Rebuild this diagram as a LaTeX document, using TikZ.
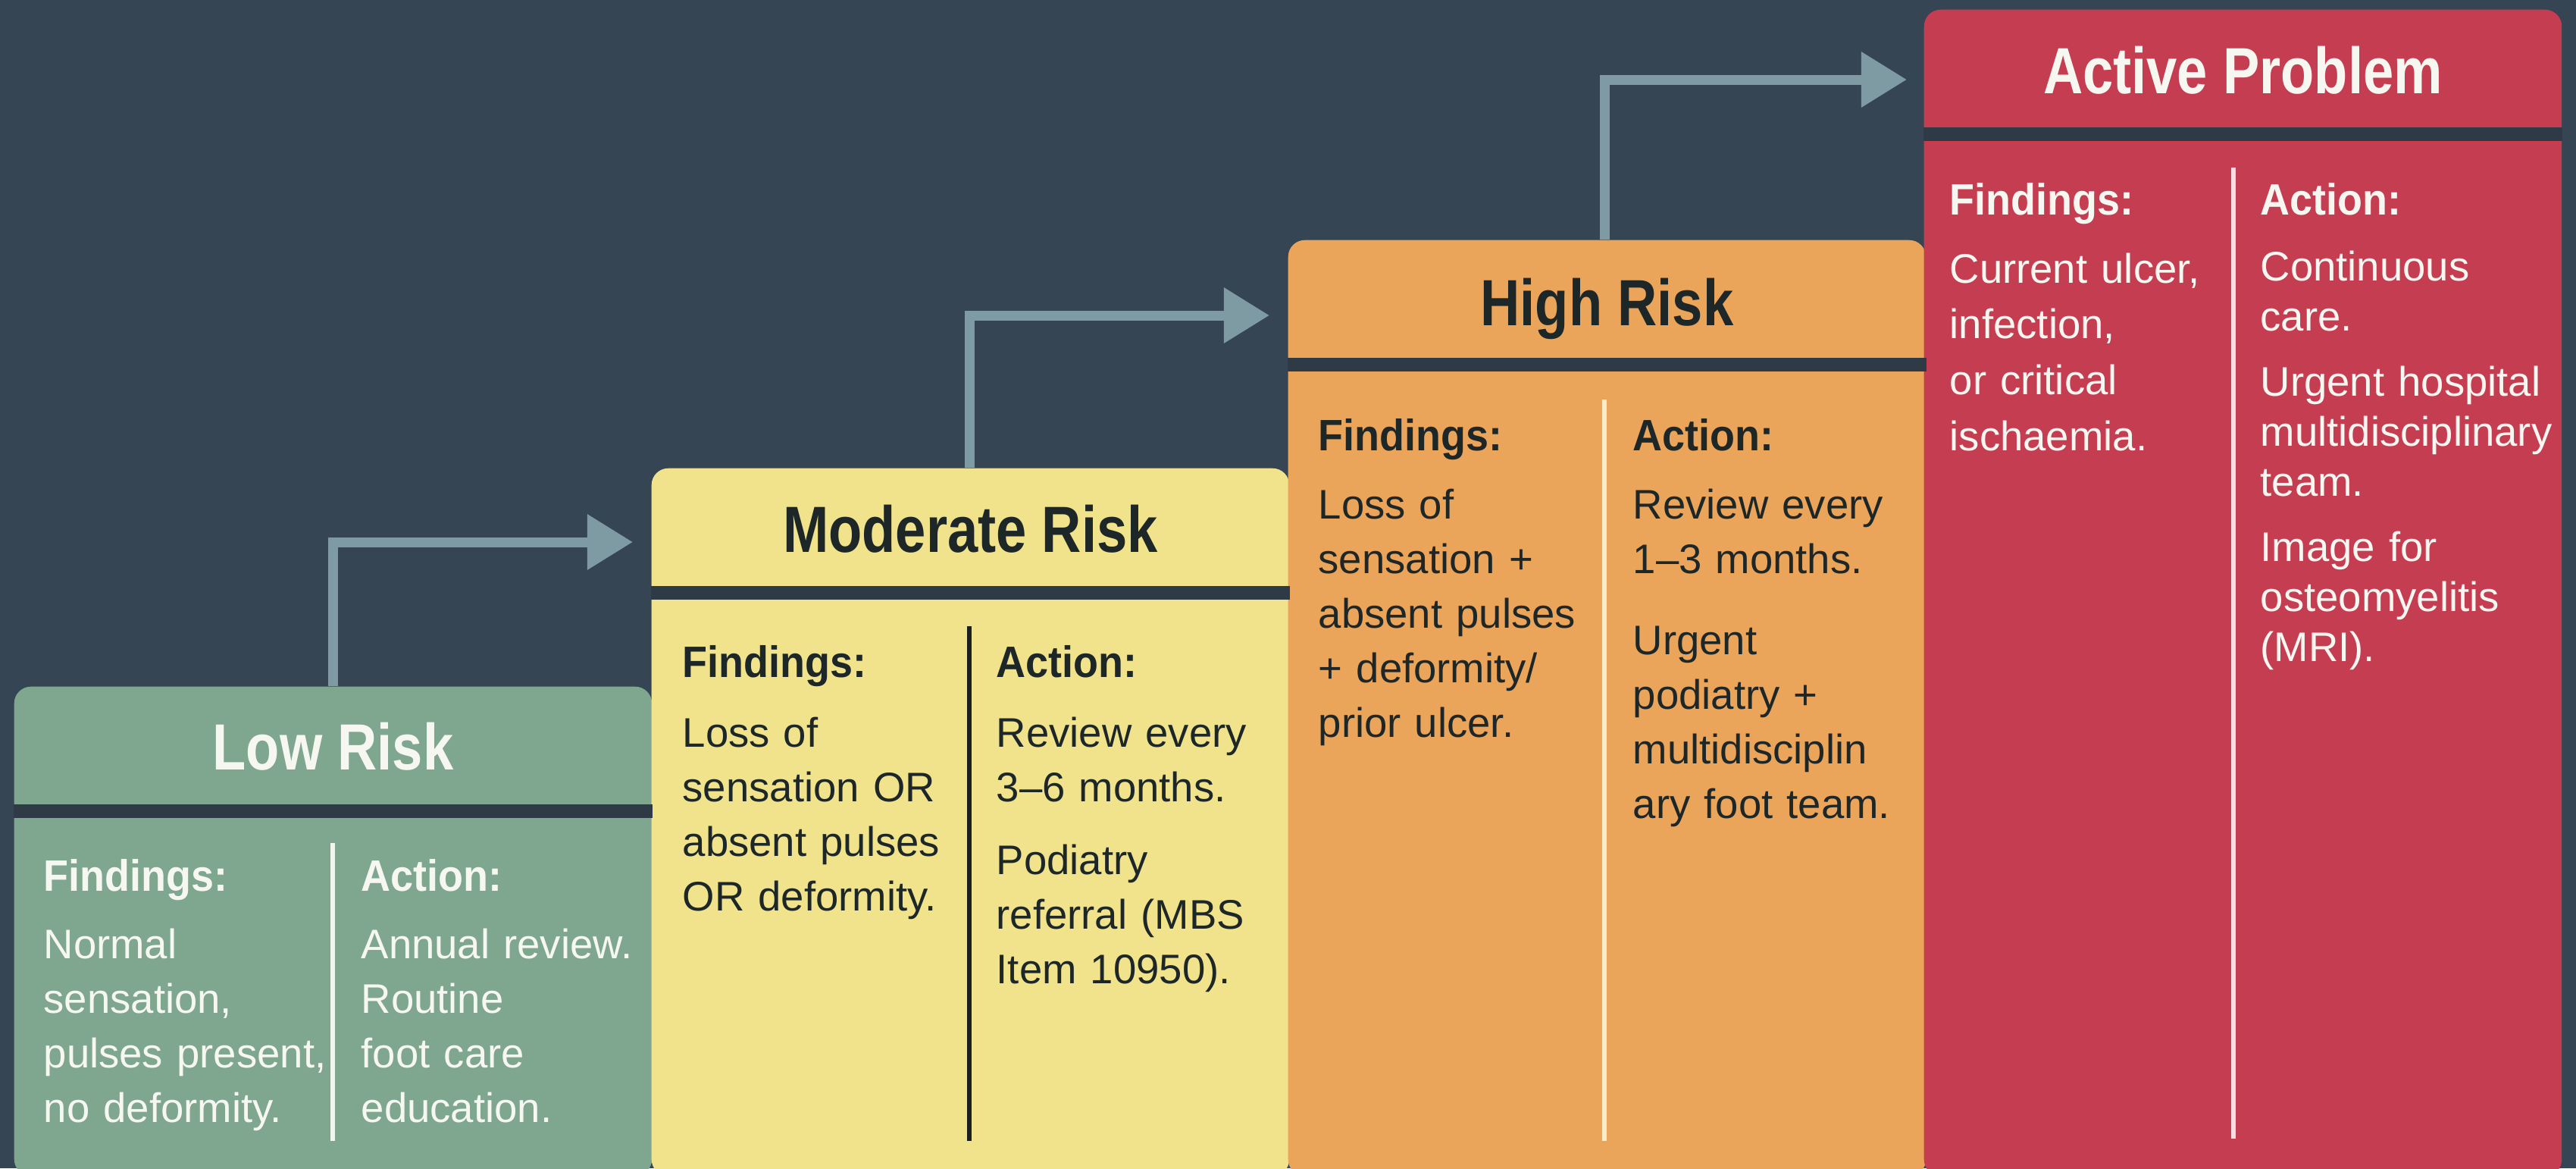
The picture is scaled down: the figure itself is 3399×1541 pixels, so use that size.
\documentclass[tikz,border=0pt]{standalone}
\usepackage{fontspec}
\setmainfont{Liberation Sans}
\newfontfamily\titlefont{Liberation Sans}[FakeStretch=0.84]
\newfontfamily\headfont{Liberation Sans}[FakeStretch=0.93]
\usetikzlibrary{calc,arrows.meta}

\definecolor{bg}{HTML}{354553}
\definecolor{band}{HTML}{2E3B46}
\definecolor{lowc}{HTML}{7FA68E}
\definecolor{modc}{HTML}{F0E38C}
\definecolor{highc}{HTML}{EBA55B}
\definecolor{actc}{HTML}{C43D51}
\definecolor{arrowc}{HTML}{7E9BA4}
\definecolor{ink}{HTML}{1E2727}
\definecolor{lite}{HTML}{F7F7F2}
\definecolor{lowrule}{HTML}{F2F4EE}
\definecolor{modrule}{HTML}{1B1F1E}
\definecolor{highrule}{HTML}{FCEBC4}
\definecolor{actrule}{HTML}{F5DDE1}

\tikzset{
  stage/.style={anchor=north west, rectangle, rounded corners=0.22cm,
    minimum width=8.41cm, inner sep=0pt, draw=none},
  title/.style={anchor=base, inner sep=0pt,
    font=\titlefont\bfseries\fontsize{24.5}{29}\selectfont},
  head/.style={anchor=base west, inner sep=0pt,
    font=\headfont\bfseries\fontsize{16.5}{20}\selectfont},
  body/.style={anchor=base west, inner sep=0pt, align=left, text width=4.3cm,
    font=\fontsize{15.5}{20.5}\selectfont},
  colrule/.style={line width=0.065cm},
  flow/.style={draw=arrowc, line width=0.13cm, line join=miter,
    -{Triangle[length=0.6cm,width=0.7cm]}},
}

\begin{document}
\begin{tikzpicture}[x=0.01cm, y=-0.01cm]
  \clip (0,0) rectangle (3399,1541);
  \fill[bg] (0,0) rectangle (3399,1541);

  % the four stages, stepping up to the right
  \node[stage, fill=lowc,  minimum height=6.45cm]  (low)  at (18,905)   {};
  \node[stage, fill=modc,  minimum height=9.33cm]  (mod)  at (859,617)  {};
  \node[stage, fill=highc, minimum height=12.34cm] (high) at (1699,316) {};
  \node[stage, fill=actc,  minimum height=15.38cm] (act)  at (2538,12)  {};

  % dark band between title and body
  \foreach \s in {low,mod,high,act}
    \fill[band] ($(\s.north west)+(0,156)$) rectangle ($(\s.north east)+(0,174)$);

  % titles
  \node[title, text=lite] (lowT)  at ($(low.north)+(0,110)$)  {Low Risk};
  \node[title, text=ink]  (modT)  at ($(mod.north)+(0,111)$)  {Moderate Risk};
  \node[title, text=ink]  (highT) at ($(high.north)+(0,113)$) {High Risk};
  \node[title, text=lite] (actT)  at ($(act.north)+(0,111)$)  {Active Problem};

  % column rules
  \coordinate (floor) at (0,1505);
  \coordinate (lowR)  at ($(low.north west)+(421,207)$);
  \coordinate (modR)  at ($(mod.north west)+(420,209)$);
  \coordinate (highR) at ($(high.north west)+(418,211)$);
  \coordinate (actR)  at ($(act.north west)+(409,209)$);
  \draw[colrule, lowrule]  (lowR)  -- (lowR |- floor);
  \draw[colrule, modrule]  (modR)  -- (modR |- floor);
  \draw[colrule, highrule] (highR) -- (highR |- floor);
  \draw[colrule, actrule]  (actR)  -- ($(actR |- floor)+(0,-3)$);

  % Low Risk
  \node[head, text=lite] (lowF) at ($(low.north west)+(39,270)$)  {Findings:};
  \node[head, text=lite] (lowA) at ($(low.north west)+(458,270)$) {Action:};
  \node[body, text=lite] (lowFt) at ($(low.north west)+(39,359)$)
    {Normal\\sensation,\\pulses present,\\no deformity.};
  \node[body, text=lite] (lowAt) at ($(low.north west)+(458,359)$)
    {Annual review.\\Routine\\foot care\\education.};

  % Moderate Risk
  \node[head, text=ink] (modF) at ($(mod.north west)+(41,276)$)  {Findings:};
  \node[head, text=ink] (modA) at ($(mod.north west)+(455,276)$) {Action:};
  \node[body, text=ink] (modFt) at ($(mod.north west)+(41,368)$)
    {Loss of\\sensation OR\\absent pulses\\OR deformity.};
  \node[body, text=ink] (modAt) at ($(mod.north west)+(455,368)$)
    {Review every\\3–6 months.\\[0.24cm]Podiatry\\referral (MBS\\Item 10950).};

  % High Risk
  \node[head, text=ink] (highF) at ($(high.north west)+(40,278)$)  {Findings:};
  \node[head, text=ink] (highA) at ($(high.north west)+(455,278)$) {Action:};
  \node[body, text=ink] (highFt) at ($(high.north west)+(40,368)$)
    {Loss of\\sensation +\\absent pulses\\+ deformity/\\prior ulcer.};
  \node[body, text=ink] (highAt) at ($(high.north west)+(455,368)$)
    {Review every\\1–3 months.\\[0.35cm]Urgent\\podiatry +\\multidisciplin\\ary foot team.};

  % Active Problem
  \node[head, text=lite] (actF) at ($(act.north west)+(34,271)$)  {Findings:};
  \node[head, text=lite] (actA) at ($(act.north west)+(444,271)$) {Action:};
  \node[body, text=lite, font=\fontsize{15.5}{21}\selectfont] (actFt)
    at ($(act.north west)+(34,361)$)
    {Current ulcer,\\infection,\\or critical\\ischaemia.};
  \node[body, text=lite, font=\fontsize{15.5}{18.8}\selectfont] (actAt)
    at ($(act.north west)+(444,358)$)
    {Continuous\\care.\\[0.2cm]Urgent hospital\\multidisciplinary\\team.\\[0.2cm]Image for\\osteomyelitis\\(MRI).};

  % step-up connectors
  \coordinate (s1) at ($(low.north west)+(421,0)$);
  \coordinate (e1) at ($(mod.north west)+(-24,98)$);
  \coordinate (s2) at ($(mod.north west)+(420,0)$);
  \coordinate (e2) at ($(high.north west)+(-24,100)$);
  \coordinate (s3) at ($(high.north west)+(418,0)$);
  \coordinate (e3) at ($(act.north west)+(-22,93)$);
  \draw[flow] (s1) |- (e1);
  \draw[flow] (s2) |- (e2);
  \draw[flow] (s3) |- (e3);
\end{tikzpicture}
\end{document}
